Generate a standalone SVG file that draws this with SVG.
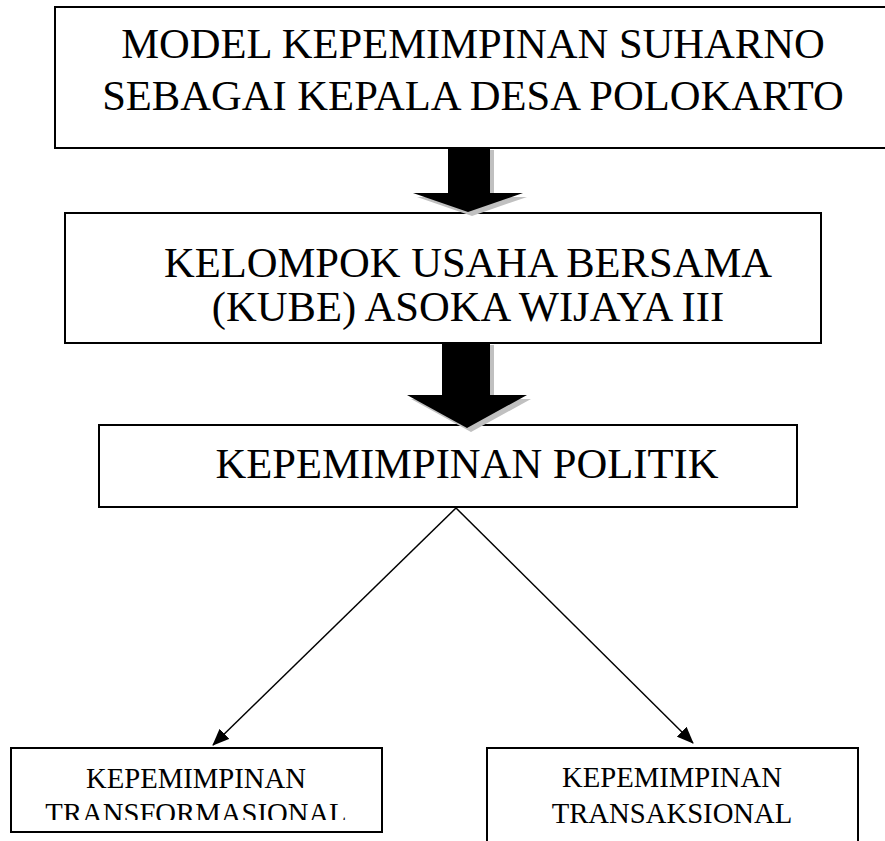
<svg xmlns="http://www.w3.org/2000/svg" width="885" height="841" viewBox="0 0 885 841">
<style>
.box{fill:#fff;stroke:#000;stroke-width:2}
.big{font-family:"Liberation Serif","Times New Roman",serif;font-size:42.6px;fill:#000;text-anchor:middle}
.small{font-family:"Liberation Serif","Times New Roman",serif;font-size:28.7px;fill:#000;text-anchor:middle}
.conn{stroke:#000;stroke-width:1.5;fill:none}
.shadow{fill:#c0c0c0}
.blk{fill:#000}
</style>
<defs>
<marker id="ah" markerWidth="17" markerHeight="14" refX="16" refY="7" orient="auto" markerUnits="userSpaceOnUse" viewBox="0 0 17 14">
<path d="M0,0 L17,7 L0,14 z" fill="#000"/>
</marker>
<clipPath id="clip4"><rect x="12" y="749" width="369" height="71"/></clipPath>
</defs>
<rect width="885" height="841" fill="#fff"/>
<g id="node-model">
<rect class="box" x="55" y="7" width="840" height="141"/>
<text class="big" x="473" y="58">MODEL KEPEMIMPINAN SUHARNO</text>
<text class="big" x="473" y="110">SEBAGAI KEPALA DESA POLOKARTO</text>
</g>
<g id="node-kube">
<rect class="box" x="65" y="213" width="756" height="130"/>
<text class="big" x="468" y="277">KELOMPOK USAHA BERSAMA</text>
<text class="big" x="468" y="321">(KUBE) ASOKA WIJAYA III</text>
</g>
<g id="node-politik">
<rect class="box" x="99" y="425" width="698" height="82"/>
<text class="big" x="467" y="478">KEPEMIMPINAN POLITIK</text>
</g>
<g id="node-transformasional">
<rect class="box" x="11" y="748" width="371" height="84"/>
<g clip-path="url(#clip4)">
<text class="small" x="196" y="788">KEPEMIMPINAN</text>
<text class="small" x="196" y="823">TRANSFORMASIONAL</text>
</g>
</g>
<g id="node-transaksional">
<rect class="box" x="487" y="748" width="371" height="110"/>
<text class="small" x="672" y="787">KEPEMIMPINAN</text>
<text class="small" x="672" y="823">TRANSAKSIONAL</text>
</g>
<g id="connectors">
<polygon class="shadow" points="452,150 494,150 494,197 527,197 472,216 417,197 452,197"/>
<polygon class="blk" points="448,148 490,148 490,193 523,193 468,212 413,193 448,193"/>
<polygon class="shadow" points="446,345 494,345 494,399 531,399 471,432 411,399 446,399"/>
<polygon class="blk" points="442,343 490,343 490,395 527,395 467,428 407,395 442,395"/>
<line class="conn" x1="456" y1="508" x2="213" y2="745" marker-end="url(#ah)"/>
<line class="conn" x1="456" y1="508" x2="693" y2="743" marker-end="url(#ah)"/>
</g>
</svg>
